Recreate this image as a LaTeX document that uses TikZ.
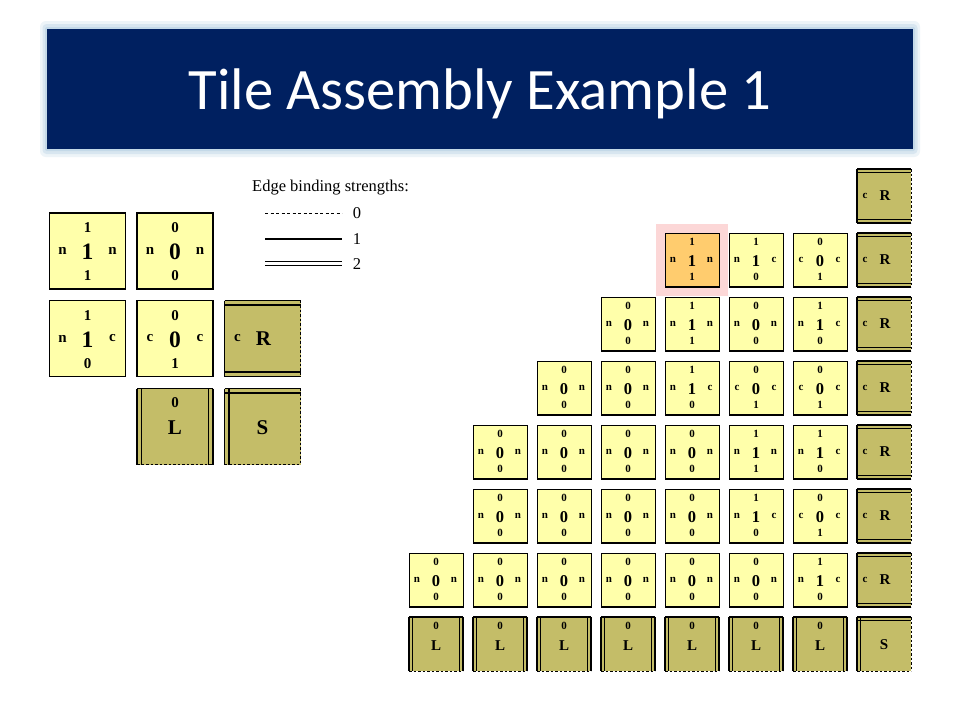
\documentclass[tikz,border=0pt]{standalone}
\usepackage{fontspec}
\setmainfont{Liberation Serif}
\newfontfamily\titlefont{Carlito}
\definecolor{navy}{RGB}{0,32,96}
\definecolor{glowc}{RGB}{185,210,228}
\definecolor{tileyellow}{RGB}{255,255,170}
\definecolor{olivec}{RGB}{196,189,104}
\definecolor{hiorange}{RGB}{255,204,110}
\definecolor{hipink}{RGB}{252,215,215}
\tikzset{
  gtilebox/.style={draw=black, line width=1pt, minimum width=54pt, minimum height=54pt, inner sep=0pt, outer sep=0pt},
  btilebox/.style={draw=black, line width=1.3pt, minimum width=76pt, minimum height=76pt, inner sep=0pt, outer sep=0pt, fill=tileyellow},
  otile/.style={fill=olivec, inner sep=0pt, outer sep=0pt},
  edgeone/.style={line width=1.2pt, black},
  edgezero/.style={line width=1pt, black, dash pattern=on 2.5pt off 2pt},
  gsmall/.style={font=\fontsize{11}{11}\selectfont\bfseries, inner sep=0pt},
  gcen/.style={font=\fontsize{16.5}{16.5}\selectfont\bfseries, inner sep=0pt},
  gletter/.style={font=\fontsize{15}{15}\selectfont\bfseries, inner sep=0pt},
  bsmall/.style={font=\fontsize{15}{15}\selectfont\bfseries, inner sep=0pt},
  bcen/.style={font=\fontsize{23.5}{23.5}\selectfont\bfseries, inner sep=0pt},
  bletter/.style={font=\fontsize{21}{21}\selectfont\bfseries, inner sep=0pt},
  legtext/.style={font=\fontsize{16.5}{16.5}\selectfont, inner sep=0pt},
}
% grid tile: name, col, row, fill, top, left, center, right, bottom
\newcommand{\GridTile}[9]{%
  \node[gtilebox, fill=#4] (#1) at ({436+64*#2},{196+64*#3}) {};
  \draw[line width=2pt] (#1.south west) -- (#1.south east);
  \node[gsmall] (#1t) at ([yshift=18pt]#1.center) {#5};
  \node[gsmall] (#1l) at ([xshift=-19pt]#1.center) {#6};
  \node[gcen]   (#1c) at ([yshift=-1pt]#1.center) {#7};
  \node[gsmall] (#1r) at ([xshift=18pt]#1.center) {#8};
  \node[gsmall] (#1b) at ([yshift=-17pt]#1.center) {#9};
}
% big tile: name, cx, cy, top, left, center, right, bottom
\newcommand{\BigTile}[8]{%
  \node[btilebox] (#1) at (#2,#3) {};
  \node[bsmall] (#1t) at ([yshift=23pt]#1.center) {#4};
  \node[bsmall] (#1l) at ([xshift=-25pt]#1.center) {#5};
  \node[bcen]   (#1c) at ([yshift=-1pt]#1.center) {#6};
  \node[bsmall] (#1r) at ([xshift=25pt]#1.center) {#7};
  \node[bsmall] (#1b) at ([yshift=-25pt]#1.center) {#8};
}
% R tile: name, cx, cy, size, d, small style, big style, c offset
\newcommand{\RTile}[8]{%
  \node[otile, minimum width=#4, minimum height=#4] (#1) at (#2,#3) {};
  \draw[edgeone] (#1.north west) -- (#1.north east);
  \draw[edgeone] ([yshift=-#5]#1.north west) -- ([yshift=-#5]#1.north east);
  \draw[edgeone] (#1.south west) -- (#1.south east);
  \draw[edgeone] ([yshift=#5]#1.south west) -- ([yshift=#5]#1.south east);
  \draw[edgeone] (#1.north west) -- (#1.south west);
  \draw[edgezero] (#1.north east) -- (#1.south east);
  \node[#6] (#1l) at ([xshift=#8]#1.west) {c};
  \node[#7] (#1c) at ([xshift=1pt]#1.center) {R};
}
% L tile: name, cx, cy, size, d, small style, big style, top offset
\newcommand{\LTile}[8]{%
  \node[otile, minimum width=#4, minimum height=#4] (#1) at (#2,#3) {};
  \draw[edgeone] (#1.north west) -- (#1.north east);
  \draw[edgeone] (#1.north west) -- (#1.south west);
  \draw[edgeone] ([xshift=#5]#1.north west) -- ([xshift=#5]#1.south west);
  \draw[edgeone] (#1.north east) -- (#1.south east);
  \draw[edgeone] ([xshift=-#5]#1.north east) -- ([xshift=-#5]#1.south east);
  \draw[edgezero] (#1.south west) -- (#1.south east);
  \node[#6] (#1t) at ([yshift=-#8]#1.north) {0};
  \node[#7] (#1c) at ([yshift=-1.5pt]#1.center) {L};
}
% S tile: name, cx, cy, size, d, big style
\newcommand{\STile}[6]{%
  \node[otile, minimum width=#4, minimum height=#4] (#1) at (#2,#3) {};
  \draw[edgeone] (#1.north west) -- (#1.north east);
  \draw[edgeone] ([yshift=-#5]#1.north west) -- ([yshift=-#5]#1.north east);
  \draw[edgeone] (#1.north west) -- (#1.south west);
  \draw[edgeone] ([xshift=#5]#1.north west) -- ([xshift=#5]#1.south west);
  \draw[edgezero] (#1.north east) -- (#1.south east);
  \draw[edgezero] (#1.south west) -- (#1.south east);
  \node[#6] (#1c) at ([yshift=-1pt]#1.center) {S};
}
\begin{document}
\begin{tikzpicture}[x=1pt,y=-1pt]
\useasboundingbox[fill=white] (0,0) rectangle (960,720);
% title bar
\fill[glowc!25, rounded corners=6pt] (40,21) rectangle (920,157);
\fill[glowc!55, rounded corners=4pt] (42.5,24) rectangle (917.5,154);
\fill[glowc!85, rounded corners=2pt] (45,27) rectangle (915,151);
\fill[navy] (47,29) rectangle (913,149);
\node[font=\titlefont\fontsize{58.7}{60}\selectfont, text=white, anchor=base, inner sep=0pt] (title) at (480,109.5) {Tile Assembly Example 1};
% legend
\node[legtext, anchor=base west] (legtitle) at (252,191) {Edge binding strengths:};
\coordinate (la0) at (265,213.3); \coordinate (lb0) at (342,213.3);
\coordinate (la1) at (265,239);   \coordinate (lb1) at (342,239);
\coordinate (la2) at (265,261.8); \coordinate (lb2) at (342,261.8);
\coordinate (la3) at (265,265.6); \coordinate (lb3) at (342,265.6);
\draw[line width=1.1pt, dash pattern=on 3pt off 2.5pt] (la0) -- (lb0);
\draw[line width=1.3pt] (la1) -- (lb1);
\draw[line width=1.1pt] (la2) -- (lb2);
\draw[line width=1.1pt] (la3) -- (lb3);
\node[legtext] (leg0) at (357,213) {0};
\node[legtext] (leg1) at (357,239) {1};
\node[legtext] (leg2) at (357,264) {2};
% tile set
\BigTile{ta}{87.5}{251}{1}{n}{1}{n}{1}
\BigTile{tb}{175}{251}{0}{n}{0}{n}{0}
\BigTile{tc}{87.5}{338.5}{1}{n}{1}{c}{0}
\BigTile{td}{175}{338.5}{0}{c}{0}{c}{1}
\RTile{tr}{262.5}{338.5}{76pt}{4.5pt}{bsmall}{bletter}{13pt}
\LTile{tl}{175}{426.5}{76pt}{4.5pt}{bsmall}{bletter}{14pt}
\STile{ts}{262.5}{426.5}{76pt}{4.5pt}{bletter}
% highlight
\fill[hipink] (656,224) rectangle (728,296);
% grid rows
\GridTile{g14}{4}{1}{hiorange}{1}{n}{1}{n}{1}
\GridTile{g15}{5}{1}{tileyellow}{1}{n}{1}{c}{0}
\GridTile{g16}{6}{1}{tileyellow}{0}{c}{0}{c}{1}
\GridTile{g23}{3}{2}{tileyellow}{0}{n}{0}{n}{0}
\GridTile{g24}{4}{2}{tileyellow}{1}{n}{1}{n}{1}
\GridTile{g25}{5}{2}{tileyellow}{0}{n}{0}{n}{0}
\GridTile{g26}{6}{2}{tileyellow}{1}{n}{1}{c}{0}
\GridTile{g32}{2}{3}{tileyellow}{0}{n}{0}{n}{0}
\GridTile{g33}{3}{3}{tileyellow}{0}{n}{0}{n}{0}
\GridTile{g34}{4}{3}{tileyellow}{1}{n}{1}{c}{0}
\GridTile{g35}{5}{3}{tileyellow}{0}{c}{0}{c}{1}
\GridTile{g36}{6}{3}{tileyellow}{0}{c}{0}{c}{1}
\GridTile{g41}{1}{4}{tileyellow}{0}{n}{0}{n}{0}
\GridTile{g42}{2}{4}{tileyellow}{0}{n}{0}{n}{0}
\GridTile{g43}{3}{4}{tileyellow}{0}{n}{0}{n}{0}
\GridTile{g44}{4}{4}{tileyellow}{0}{n}{0}{n}{0}
\GridTile{g45}{5}{4}{tileyellow}{1}{n}{1}{n}{1}
\GridTile{g46}{6}{4}{tileyellow}{1}{n}{1}{c}{0}
\GridTile{g51}{1}{5}{tileyellow}{0}{n}{0}{n}{0}
\GridTile{g52}{2}{5}{tileyellow}{0}{n}{0}{n}{0}
\GridTile{g53}{3}{5}{tileyellow}{0}{n}{0}{n}{0}
\GridTile{g54}{4}{5}{tileyellow}{0}{n}{0}{n}{0}
\GridTile{g55}{5}{5}{tileyellow}{1}{n}{1}{c}{0}
\GridTile{g56}{6}{5}{tileyellow}{0}{c}{0}{c}{1}
\GridTile{g60}{0}{6}{tileyellow}{0}{n}{0}{n}{0}
\GridTile{g61}{1}{6}{tileyellow}{0}{n}{0}{n}{0}
\GridTile{g62}{2}{6}{tileyellow}{0}{n}{0}{n}{0}
\GridTile{g63}{3}{6}{tileyellow}{0}{n}{0}{n}{0}
\GridTile{g64}{4}{6}{tileyellow}{0}{n}{0}{n}{0}
\GridTile{g65}{5}{6}{tileyellow}{0}{n}{0}{n}{0}
\GridTile{g66}{6}{6}{tileyellow}{1}{n}{1}{c}{0}
% R column
\foreach \r in {0,...,6}{
  \RTile{gr\r}{884}{196+64*\r}{54pt}{3.5pt}{gsmall}{gletter}{8pt}
}
% L row
\foreach \c in {0,...,6}{
  \LTile{gl\c}{436+64*\c}{644}{54pt}{3.5pt}{gsmall}{gletter}{8.5pt}
}
\STile{gs}{884}{644}{54pt}{3.5pt}{gletter}
\end{tikzpicture}
\end{document}
